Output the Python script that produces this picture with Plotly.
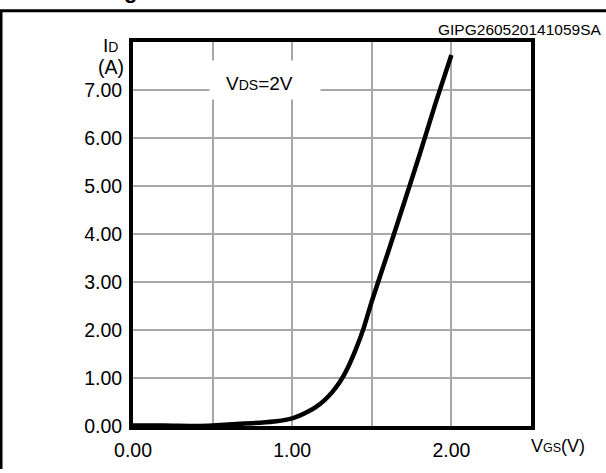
import plotly.graph_objects as go

# Transfer characteristic, VDS = 2 V
vgs = [0.0, 0.2, 0.4, 0.5, 0.6, 0.7, 0.8, 0.9, 1.0, 1.05, 1.1, 1.15, 1.2, 1.25,
       1.3, 1.35, 1.4, 1.45, 1.5, 1.6, 1.7, 1.8, 1.9, 2.0]
id_a = [0.01, 0.01, 0.0, 0.01, 0.03, 0.05, 0.07, 0.1, 0.16, 0.22, 0.3, 0.4, 0.53, 0.7,
        0.92, 1.22, 1.6, 2.05, 2.6, 3.6, 4.62, 5.65, 6.72, 7.73]

x_tickvals = [0, 0.5, 1.0, 1.5, 2.0, 2.5]
x_ticktext = ["0.00", "", "1.00", "", "2.00", ""]
y_tickvals = [0, 1, 2, 3, 4, 5, 6, 7, 8]
y_ticktext = ["0.00", "1.00", "2.00", "3.00", "4.00", "5.00", "6.00", "7.00", ""]

FONT = "Liberation Sans, Arial, sans-serif"
W, H = 606, 473
L, R, T, B = 133, 75, 42, 37
PW, PH = W - L - R, H - T - B


def px(xp):
    return (xp - L) / PW


def py(yp):
    return (H - B - yp) / PH


fig = go.Figure()
fig.add_trace(go.Scatter(x=vgs, y=id_a, mode="lines",
                         line=dict(color="black", width=4.5, shape="spline", smoothing=0.6),
                         hoverinfo="skip", showlegend=False))

axis_common = dict(showline=True, linecolor="black", linewidth=4, mirror=True,
                   showgrid=True, gridcolor="#a8a8a8", gridwidth=1.6, zeroline=False,
                   ticks="", tickfont=dict(family=FONT, size=19.5, color="black"),
                   fixedrange=True)

fig.update_xaxes(range=[0, 2.5], tickmode="array", tickvals=x_tickvals,
                 ticktext=x_ticktext, ticklabelstandoff=4, **axis_common)
fig.update_yaxes(range=[0, 8], tickmode="array", tickvals=y_tickvals,
                 ticktext=y_ticktext, ticklabelstandoff=3, **axis_common)

ann = []
# white background behind the VDS label
ann.append(dict(xref="paper", yref="paper", x=px(265), y=py(81), text=" ",
                showarrow=False, width=110, height=38, bgcolor="white",
                xanchor="center", yanchor="middle", borderpad=0))
ann.append(dict(xref="paper", yref="paper", x=px(259), y=py(85),
                text="V<span style='font-size:14px'>DS</span>=2V",
                showarrow=False, xanchor="center", yanchor="middle",
                font=dict(family=FONT, size=19, color="black")))
# y-axis title
ann.append(dict(xref="paper", yref="paper", x=px(120), y=py(46),
                text="I<span style='font-size:14px'>D</span>",
                showarrow=False, xanchor="right", yanchor="middle",
                font=dict(family=FONT, size=19, color="black")))
ann.append(dict(xref="paper", yref="paper", x=px(126), y=py(68),
                text="(A)", showarrow=False, xanchor="right", yanchor="middle",
                font=dict(family=FONT, size=19.5, color="black")))
# x-axis title
ann.append(dict(xref="paper", yref="paper", x=px(529), y=py(457),
                text="V<span style='font-size:12.5px'>GS</span>(V)",
                showarrow=False, xanchor="left", yanchor="middle",
                font=dict(family=FONT, size=18, color="black")))
# figure code
ann.append(dict(xref="paper", yref="paper", x=px(604), y=py(29),
                text="GIPG260520141059SA", showarrow=False,
                xanchor="right", yanchor="middle",
                font=dict(family=FONT, size=15.5, color="black")))
# cropped title fragment at the top edge
ann.append(dict(xref="paper", yref="paper", x=px(130), y=py(4),
                text="<b>g</b>", showarrow=False, xanchor="center", yanchor="bottom",
                font=dict(family=FONT, size=22, color="black")))

shapes = [
    dict(type="line", xref="paper", yref="paper", x0=px(-5), x1=px(615),
         y0=py(10), y1=py(10), line=dict(color="black", width=3)),
    dict(type="line", xref="paper", yref="paper", x0=px(1), x1=px(1),
         y0=py(10), y1=py(480), line=dict(color="black", width=3)),
]

fig.update_layout(width=W, height=H, margin=dict(l=L, r=R, t=T, b=B),
                  paper_bgcolor="white", plot_bgcolor="white",
                  annotations=ann, shapes=shapes, showlegend=False,
                  font=dict(family=FONT, color="black"))

post = """
(function(){
  var de = document.documentElement, b = document.body;
  de.style.margin = '0'; de.style.padding = '0'; de.style.overflow = 'hidden';
  b.style.margin = '0'; b.style.padding = '0'; b.style.overflow = 'hidden';
})();
"""

fig.write_html("out.html", config={"displayModeBar": False}, post_script=post)
